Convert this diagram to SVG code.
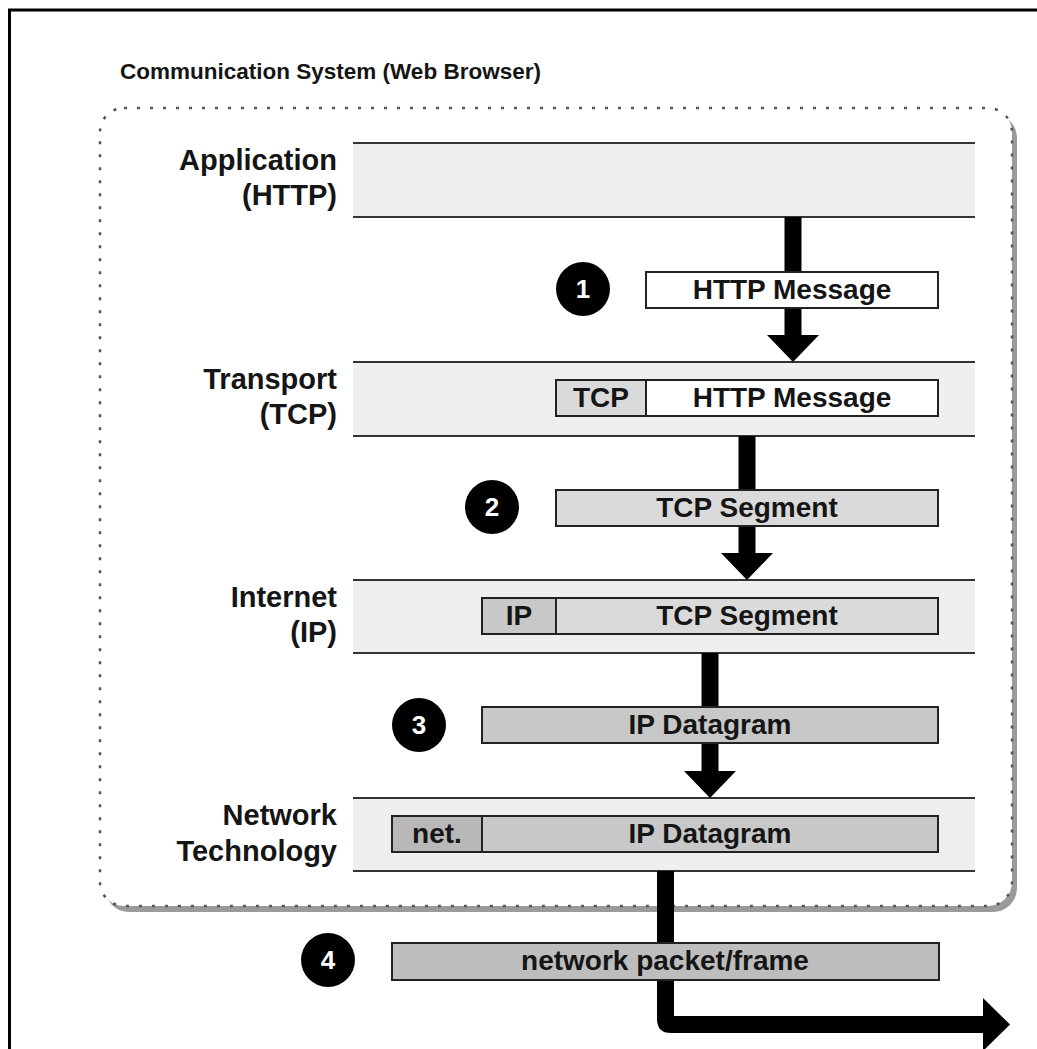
<svg xmlns="http://www.w3.org/2000/svg" width="1037" height="1049" viewBox="0 0 1037 1049">
  <style>
    text { font-family: "Liberation Sans", Arial, sans-serif; font-weight: bold; fill: #151515; }
    .title { font-size: 22.5px; }
    .layer { font-size: 29px; text-anchor: end; }
    .pkt { font-size: 28px; text-anchor: middle; }
    .num { font-size: 26px; text-anchor: middle; fill: #ffffff; }
    .band { fill: #efefef; }
    .bandline { stroke: #333333; stroke-width: 2; fill: none; }
    .box { stroke: #222222; stroke-width: 2; }
    .white { fill: #ffffff; }
    .g1 { fill: #dadada; }
    .g2 { fill: #c8c8c8; }
    .g3 { fill: #b8b8b8; }
    .g4 { fill: #bdbdbd; }
    .arrow { fill: #000000; }
  </style>

  <!-- page frame -->
  <rect x="0" y="0" width="1037" height="1049" fill="#ffffff"/>
  <rect id="frame" x="9.5" y="10" width="1100" height="1100" fill="none" stroke="#000000" stroke-width="3"/>

  <!-- title -->
  <g id="title">
    <text class="title" x="120" y="79">Communication System (Web Browser)</text>
  </g>

  <!-- dotted container with drop shadow -->
  <g id="system">
    <rect x="105" y="114" width="912" height="798" rx="24" fill="#9a9a9a"/>
    <rect x="100" y="108" width="912" height="798" rx="24" fill="#ffffff"/>
    <rect x="100" y="108" width="912" height="798" rx="24" fill="none" stroke="#555555" stroke-width="2.5" stroke-dasharray="3 10"/>
  </g>

  <!-- protocol layers -->
  <g id="layer-application">
    <rect class="band" x="353" y="143" width="622" height="74"/>
    <path class="bandline" d="M353 143H975M353 217H975"/>
    <text class="layer" x="337" y="170">Application</text>
    <text class="layer" x="337" y="205">(HTTP)</text>
  </g>
  <g id="layer-transport">
    <rect class="band" x="353" y="362" width="622" height="74"/>
    <path class="bandline" d="M353 362H975M353 436H975"/>
    <text class="layer" x="337" y="389">Transport</text>
    <text class="layer" x="337" y="424">(TCP)</text>
  </g>
  <g id="layer-internet">
    <rect class="band" x="353" y="580" width="622" height="73"/>
    <path class="bandline" d="M353 580H975M353 653H975"/>
    <text class="layer" x="337" y="607">Internet</text>
    <text class="layer" x="337" y="642">(IP)</text>
  </g>
  <g id="layer-network">
    <rect class="band" x="353" y="798" width="622" height="73"/>
    <path class="bandline" d="M353 798H975M353 871H975"/>
    <text class="layer" x="337" y="825">Network</text>
    <text class="layer" x="337" y="861">Technology</text>
  </g>

  <!-- flow arrows -->
  <g id="connectors">
    <rect class="arrow" x="784.5" y="217" width="17" height="119"/>
    <polygon class="arrow" points="767,335 819,335 793,362"/>
    <rect class="arrow" x="738.5" y="436" width="17" height="118"/>
    <polygon class="arrow" points="721,553 773,553 747,580"/>
    <rect class="arrow" x="701.5" y="653" width="17" height="119"/>
    <polygon class="arrow" points="684,771 736,771 710,798"/>
    <path class="arrow" d="M657 871H674V1016H985V1033H671Q657 1033 657 1019Z"/>
    <polygon class="arrow" points="983,998 1010,1024.5 983,1051"/>
  </g>

  <!-- step 1 -->
  <g id="step1">
    <circle cx="583" cy="289" r="27" fill="#000000"/>
    <text class="num" x="583" y="298">1</text>
  </g>
  <g id="packet-http">
    <rect class="box white" x="646" y="272" width="292" height="36"/>
    <text class="pkt" x="792" y="299">HTTP Message</text>
  </g>

  <!-- transport encapsulation -->
  <g id="packet-tcp-http">
    <rect class="box g1" x="556" y="380" width="90" height="36"/>
    <text class="pkt" x="601" y="407">TCP</text>
    <rect class="box white" x="646" y="380" width="292" height="36"/>
    <text class="pkt" x="792" y="407">HTTP Message</text>
  </g>

  <!-- step 2 -->
  <g id="step2">
    <circle cx="492" cy="507" r="27" fill="#000000"/>
    <text class="num" x="492" y="516">2</text>
  </g>
  <g id="packet-tcp-segment">
    <rect class="box g1" x="556" y="490" width="382" height="36"/>
    <text class="pkt" x="747" y="517">TCP Segment</text>
  </g>

  <!-- internet encapsulation -->
  <g id="packet-ip-tcp">
    <rect class="box g2" x="482" y="598" width="74" height="36"/>
    <text class="pkt" x="519" y="625">IP</text>
    <rect class="box g1" x="556" y="598" width="382" height="36"/>
    <text class="pkt" x="747" y="625">TCP Segment</text>
  </g>

  <!-- step 3 -->
  <g id="step3">
    <circle cx="419" cy="725" r="27" fill="#000000"/>
    <text class="num" x="419" y="734">3</text>
  </g>
  <g id="packet-ip-datagram">
    <rect class="box g2" x="482" y="707" width="456" height="36"/>
    <text class="pkt" x="710" y="734">IP Datagram</text>
  </g>

  <!-- network encapsulation -->
  <g id="packet-net-ip">
    <rect class="box g3" x="392" y="816" width="90" height="36"/>
    <text class="pkt" x="437" y="843">net.</text>
    <rect class="box g2" x="482" y="816" width="456" height="36"/>
    <text class="pkt" x="710" y="843">IP Datagram</text>
  </g>

  <!-- step 4 -->
  <g id="step4">
    <circle cx="328" cy="960" r="27" fill="#000000"/>
    <text class="num" x="328" y="969">4</text>
  </g>
  <g id="packet-frame">
    <rect class="box g4" x="392" y="943" width="547" height="37"/>
    <text class="pkt" x="665" y="970">network packet/frame</text>
  </g>
</svg>
